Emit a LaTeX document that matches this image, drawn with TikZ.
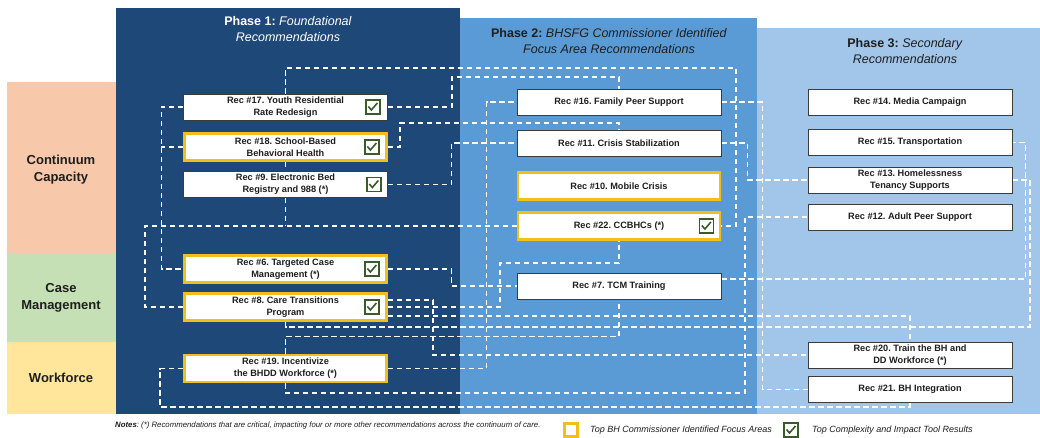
\documentclass[tikz,border=0pt]{standalone}
\usepackage{fontspec}
\setmainfont{Liberation Sans}
\usetikzlibrary{backgrounds}
\frenchspacing

\definecolor{phaseone}{HTML}{1D4877}
\definecolor{phasetwo}{HTML}{5B9BD5}
\definecolor{phasethree}{HTML}{A2C6EA}
\definecolor{capacity}{HTML}{F7C9AA}
\definecolor{casemgmt}{HTML}{C6E0B5}
\definecolor{workforce}{HTML}{FFE69A}
\definecolor{focusgold}{HTML}{F2BE1A}
\definecolor{chkgreen}{HTML}{3A5A2A}
\definecolor{boxline}{HTML}{3C3C3C}
\definecolor{headink}{HTML}{1E1E1E}

\begin{document}
\begin{tikzpicture}[x=1pt, y=-1pt,
    recbox/.style={draw=boxline, fill=white, line width=0.7pt, minimum width=204pt,
      minimum height=26pt, inner sep=1pt, align=center, text=headink,
      font=\bfseries\fontsize{9.2}{12}\selectfont},
    focus/.style={recbox, draw=focusgold, line width=2.8pt, minimum width=202pt, minimum height=27pt},
    chkbox/.style={draw=chkgreen, fill=white, line width=1.4pt, minimum size=14pt, inner sep=0pt,
      path picture={\draw[chkgreen, line width=1.6pt]
        ([shift={(-4.5pt,0.5pt)}]path picture bounding box.center) -- ++(3pt,-3.5pt) -- ++(6pt,7pt);}},
    phasehead/.style={align=center, font=\fontsize{12.5}{16}\selectfont},
    rowlabel/.style={align=center, text=headink, font=\bfseries\fontsize{13}{17}\selectfont},
    link/.style={draw=white, line width=1.2pt, dash pattern=on 5.5pt off 3.5pt}]

\useasboundingbox (0,0) rectangle (1040,438);

% bands and phases
\begin{scope}[on background layer]
  \fill[white] (0,0) rectangle (1040,438);
  \fill[capacity] (7,82) rectangle (116,253);
  \fill[casemgmt] (7,253) rectangle (116,342);
  \fill[workforce] (7,342) rectangle (116,414);
  \fill[phasethree] (757,28) rectangle (1040,414);
  \fill[phasetwo] (460,18) rectangle (757,414);
  \fill[phaseone] (116,8) rectangle (460,414);
\end{scope}

\node[phasehead, text=white] (headone) at (288,29) {\textbf{Phase 1:} \textit{Foundational}\\\textit{Recommendations}};
\node[phasehead, text=headink] (headtwo) at (609,41) {\textbf{Phase 2:} \textit{BHSFG Commissioner Identified}\\\textit{Focus Area Recommendations}};
\node[phasehead, text=headink] (headthree) at (905,51) {\textbf{Phase 3:} \textit{Secondary}\\\textit{Recommendations}};

\node[rowlabel] (capacitylbl) at (61,170) {Continuum\\Capacity};
\node[rowlabel] (casemgmtlbl) at (61,298) {Case\\Management};
\node[rowlabel] (workforcelbl) at (61,378) {Workforce};

% phase 1
\node[recbox] (rec17) at (285.5,107) {Rec \#17. Youth Residential\\Rate Redesign};
\node[focus] (rec18) at (285.5,147) {Rec \#18. School-Based\\Behavioral Health};
\node[recbox] (rec9) at (285.5,184.5) {Rec \#9. Electronic Bed\\Registry and 988 (*)};
\node[focus] (rec6) at (285.5,269) {Rec \#6. Targeted Case\\Management (*)};
\node[focus] (rec8) at (285.5,307) {Rec \#8. Care Transitions\\Program};
\node[focus] (rec19) at (285.5,368.5) {Rec \#19. Incentivize\\the BHDD Workforce (*)};

% phase 2
\node[recbox] (rec16) at (619,102) {Rec \#16. Family Peer Support};
\node[recbox] (rec11) at (619,143) {Rec \#11. Crisis Stabilization};
\node[focus] (rec10) at (619,186) {Rec \#10. Mobile Crisis};
\node[focus] (rec22) at (619,226) {Rec \#22. CCBHCs (*)};
\node[recbox] (rec7) at (619,286) {Rec \#7. TCM Training};

% phase 3
\node[recbox] (rec14) at (910,102) {Rec \#14. Media Campaign};
\node[recbox] (rec15) at (910,142.5) {Rec \#15. Transportation};
\node[recbox] (rec13) at (910,180) {Rec \#13. Homelessness\\Tenancy Supports};
\node[recbox] (rec12) at (910,217) {Rec \#12. Adult Peer Support};
\node[recbox] (rec20) at (910,355) {Rec \#20. Train the BH and\\DD Workforce (*)};
\node[recbox] (rec21) at (910,389.5) {Rec \#21. BH Integration};

% tool results
\node[chkbox] (chk17) at ([xshift=-15pt]rec17.east) {};
\node[chkbox] (chk18) at ([xshift=-16pt]rec18.east) {};
\node[chkbox] (chk9) at ([xshift=-14pt]rec9.east) {};
\node[chkbox] (chk6) at ([xshift=-16pt]rec6.east) {};
\node[chkbox] (chk8) at ([xshift=-16pt]rec8.east) {};
\node[chkbox] (chk22) at ([xshift=-15pt]rec22.east) {};

% legend
\node[anchor=west, inner sep=0pt, text=headink, font=\itshape\fontsize{7.8}{9}\selectfont] (notes) at (115,425)
  {\textbf{Notes}: (*) Recommendations that are critical, impacting four or more other recommendations across the continuum of care.};
\node[draw=focusgold, line width=2.4pt, minimum size=13pt, inner sep=0pt] (focuskey) at (571,430) {};
\node[anchor=west, inner sep=0pt, text=headink, font=\itshape\fontsize{9}{11}\selectfont] (focustxt) at (590,430) {Top BH Commissioner Identified Focus Areas};
\node[chkbox] (toolkey) at (791,430) {};
\node[anchor=west, inner sep=0pt, text=headink, font=\itshape\fontsize{9}{11}\selectfont] (tooltxt) at (812,430) {Top Complexity and Impact Tool Results};

% links
\begin{scope}[on background layer]
  \draw[link] (rec17.north) |- (736,68) |- (rec22.east);
  \draw[link] (rec17.east) -| (452,77) -| (rec16.north);
  \draw[link] (rec18.east) -| (400,123) -| (rec11.north);
  \draw[link] (rec9.east) -| ([xshift=-65pt]rec11.west) -- (rec11.west);
  \draw[link] (rec17.west) -| ([xshift=-22pt]rec6.west) -- (rec6.west);
  \draw[link] (rec18.west) -- ++(-22,0);
  \draw[link] (rec18.south) -- (rec9.north);
  \coordinate (join9) at (rec9.south |- rec22.west);
  \draw[link] (rec9.south) -- (join9);
  \draw[link] (rec8.west) -| (145,226) -- (rec22.west);
  \draw[link] (rec6.east) -| ([xshift=-65pt]rec7.west) -- (rec7.west);
  \draw[link] ([yshift=7pt]rec8.east) -| (433,355) -- (rec20.west);
  \draw[link] (rec8.east) -| (500,263) -| (rec22.south);
  \draw[link] ([yshift=-9pt]rec8.east) -| (rec20.north);
  \draw[link] (rec8.south) |- (1030,327) |- (rec13.east);
  \draw[link] (rec19.north) |- ([yshift=-37pt]rec7.south) -- (rec7.south);
  \draw[link] (rec19.east) -| ([xshift=-30pt]rec16.west) -- (rec16.west);
  \draw[link] (rec19.south) |- (745,393) |- (rec12.west);
  \draw[link] (rec19.west) -| (160,407) -| (rec21.south);
  \draw[link] (rec16.east) -| ([xshift=-45pt]rec21.west) -- (rec21.west);
  \draw[link] (rec11.east) -| ([xshift=-60pt]rec13.west) -- (rec13.west);
  \draw[link] ([yshift=7pt]rec7.east) -| ([xshift=13pt]rec15.east) -- (rec15.east);
\end{scope}
\end{tikzpicture}
\end{document}
